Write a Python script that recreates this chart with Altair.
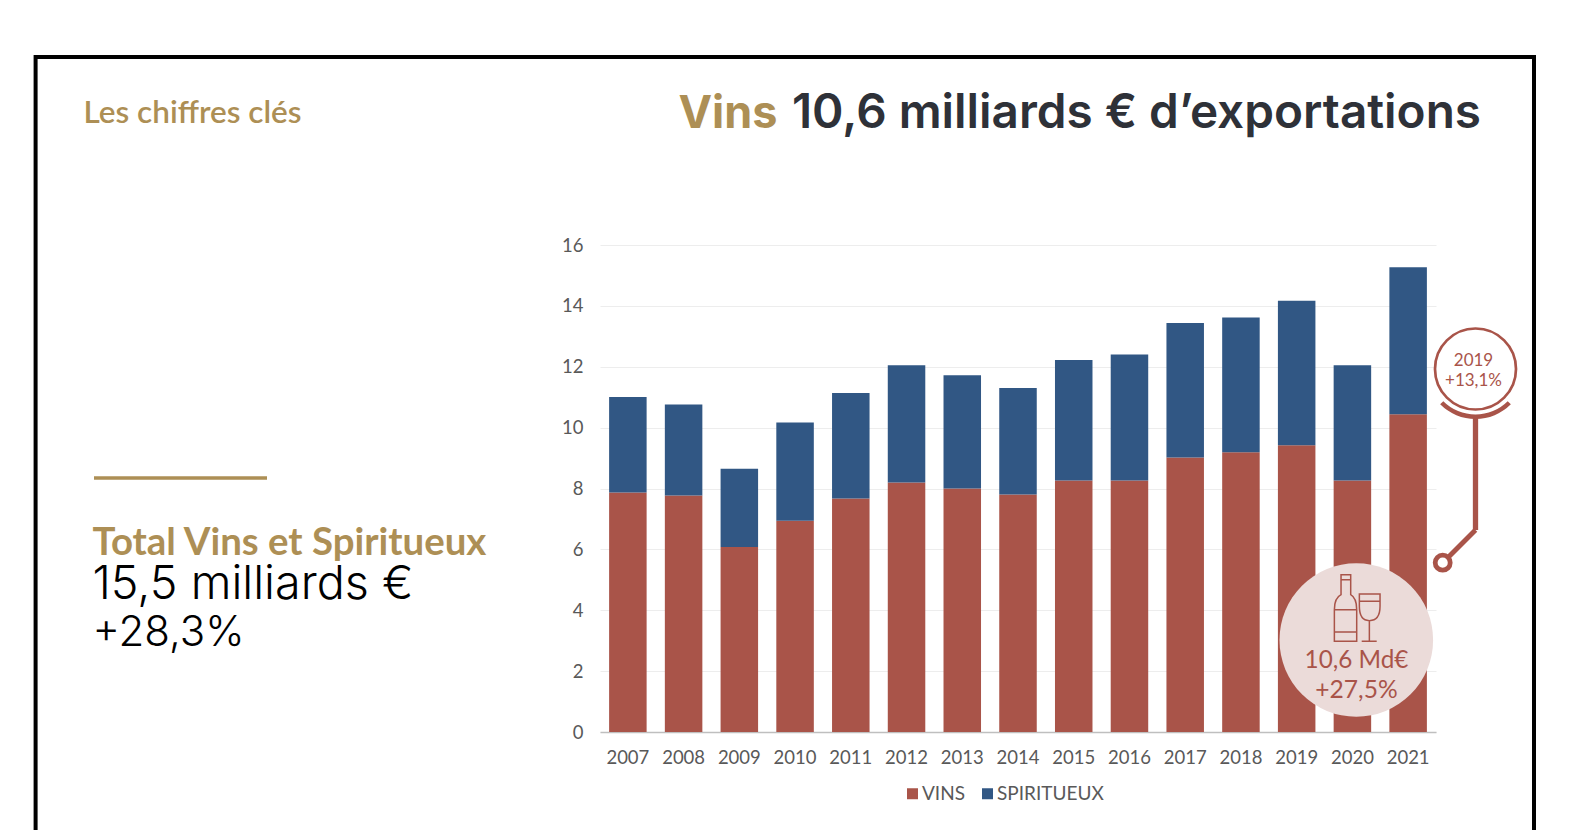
import altair as alt
import pandas as pd

years = list(range(2007, 2022))
vins = [7.87, 7.77, 6.08, 6.94, 7.67, 8.20, 8.00, 7.80, 8.26, 8.26, 9.02, 9.19, 9.42, 8.26, 10.44]
spiritueux = [3.14, 2.99, 2.57, 3.23, 3.47, 3.85, 3.72, 3.50, 3.96, 4.14, 4.42, 4.43, 4.75, 3.79, 4.83]
RED, BLUE, GOLD, DARK = "#A95449", "#315784", "#AD8F55", "#2E3138"
LAB = "#595959"
BOTTLE = ("M-.47,-1 L-.18,-1 L-.18,-.4 Q0,-.3 0,.05 L0,1 L-.67,1 L-.67,.05 Q-.67,-.3 -.47,-.4 Z "
          "M-.67,.05 L0,.05 M-.67,.72 L0,.72 M-.47,-.85 L-.18,-.85 "
          "M.08,-.42 L.7,-.42 L.7,-.05 Q.7,.38 .38,.38 Q.08,.38 .08,-.05 Z "
          "M.38,.38 L.38,1 M.15,1 L.6,1 M.08,-.2 L.7,-.2")

rows = []
for y, a, b in zip(years, vins, spiritueux):
    rows.append({"year": str(y), "serie": "VINS", "v": a, "k": 0})
    rows.append({"year": str(y), "serie": "SPIRITUEUX", "v": b, "k": 1})
df = pd.DataFrame(rows)
one = pd.DataFrame({"a": [0]})

L, T, W, H = 600, 245, 836, 487
def X(v): return alt.value(v - L)
def Y(v): return alt.value(v - T)

def text(s, x, y, size, color, font="Lato", weight="normal", align="left"):
    return alt.Chart(one).mark_text(text=s, font=font, fontSize=size, color=color, fontWeight=weight,
                                    align=align, baseline="middle").encode(x=X(x), y=Y(y))
def hrule(x1, x2, y, color, w):
    return alt.Chart(one).mark_rule(color=color, strokeWidth=w).encode(x=X(x1), x2=X(x2), y=Y(y))
def vrule(x, y1, y2, color, w):
    return alt.Chart(one).mark_rule(color=color, strokeWidth=w).encode(x=X(x), y=Y(y1), y2=Y(y2))
def dot(x, y, r, fill, stroke=None, sw=0):
    kw = dict(filled=True, fill=fill, opacity=1, size=(2 * r) ** 2, shape="circle")
    if stroke:
        kw.update(stroke=stroke, strokeWidth=sw)
    return alt.Chart(one).mark_point(**kw).encode(x=X(x), y=Y(y))

bars = alt.Chart(df).mark_bar().encode(
    x=alt.X("year:N", title=None, scale=alt.Scale(paddingInner=0.327, paddingOuter=0.1635),
            axis=alt.Axis(labelAngle=0, labelFont="Lato", labelFontSize=18.5, labelColor=LAB, ticks=False,
                          labelPadding=16.5, domainColor="#BFBFBF", domainWidth=1.5, grid=False)),
    y=alt.Y("v:Q", title=None, stack="zero", scale=alt.Scale(domain=[0, 16], nice=False),
            axis=alt.Axis(values=list(range(0, 17, 2)), labelFont="Lato", labelFontSize=18.5, labelColor=LAB,
                          ticks=False, domain=False, labelPadding=17, labelOffset=0, gridColor="#EDEDED", gridWidth=1)),
    color=alt.Color("serie:N", scale=alt.Scale(domain=["VINS", "SPIRITUEUX"], range=[RED, BLUE]),
                    legend=alt.Legend(title=None, orient="none", direction="horizontal", legendX=303, legendY=539,
                                      symbolType="square", symbolSize=121, symbolStrokeWidth=0,
                                      labelFont="Lato", labelFontSize=19, labelColor=LAB,
                                      columnPadding=13, labelOffset=0)),
    order=alt.Order("k:Q"),
)

layers = [
    bars,
    # frame
    hrule(34, 1536, 57, "#000000", 4), vrule(35.6, 55, 840, "#000000", 4), vrule(1534, 55, 840, "#000000", 4),
    # texts
    text("Les chiffres clés", 83.5, 113.5, 31.5, GOLD, weight=600),
    text("Vins", 678.5, 114, 45, GOLD, font="Inter", weight=700),
    text("10,6 milliards € d’exportations", 1481, 114, 47.7, DARK, font="Inter", weight=600, align="right"),
    hrule(94, 267, 478, GOLD, 3.5),
    text("Total Vins et Spiritueux", 92.5, 543, 38.4, GOLD, weight="bold"),
    text("15,5 milliards €", 92.5, 585, 46.7, "#000000", font="Inter", weight=300),
    text("+28,3%", 92.5, 633, 42, "#000000", font="Inter", weight=300),
    # callout
    vrule(1475.5, 417, 530, RED, 5.3),
    alt.Chart(one).mark_rule(color=RED, strokeWidth=5).encode(x=X(1475.5), x2=X(1443), y=Y(530), y2=Y(562.5)),
    dot(1442.7, 562.7, 7.5, "#FFFFFF", RED, 4.8),
    dot(1475.5, 369, 40.5, "#FFFFFF", RED, 2.7),
    alt.Chart(one).mark_arc(color=RED, theta=2.356, theta2=3.927, innerRadius=45.5, outerRadius=50).encode(x=X(1475.5), y=Y(369)),
    text("2019", 1473.5, 361, 17, RED, align="center"),
    text("+13,1%", 1473.5, 381, 17, RED, align="center"),
    # big circle
    dot(1356.3, 640, 76.8, "#EBDBD9"),
    alt.Chart(one).mark_point(shape=BOTTLE, size=4444, filled=False, stroke=RED, strokeWidth=1.5, opacity=1).encode(x=X(1356.7), y=Y(608)),
    text("10,6 Md€", 1356.5, 661, 24.3, RED, align="center"),
    text("+27,5%", 1356.5, 691, 24.6, RED, align="center"),
]

chart = alt.layer(*layers).properties(
    width=W, height=H,
    autosize=alt.AutoSizeParams(type="none"),
    padding={"left": L - 8, "top": T - 8, "right": 1562 - (L - 8) - W, "bottom": 822 - (T - 8) - H},
    background="#FFFFFF",
).configure_view(stroke=None)

chart.save("out.html", embed_options={"renderer": "svg", "actions": False})
